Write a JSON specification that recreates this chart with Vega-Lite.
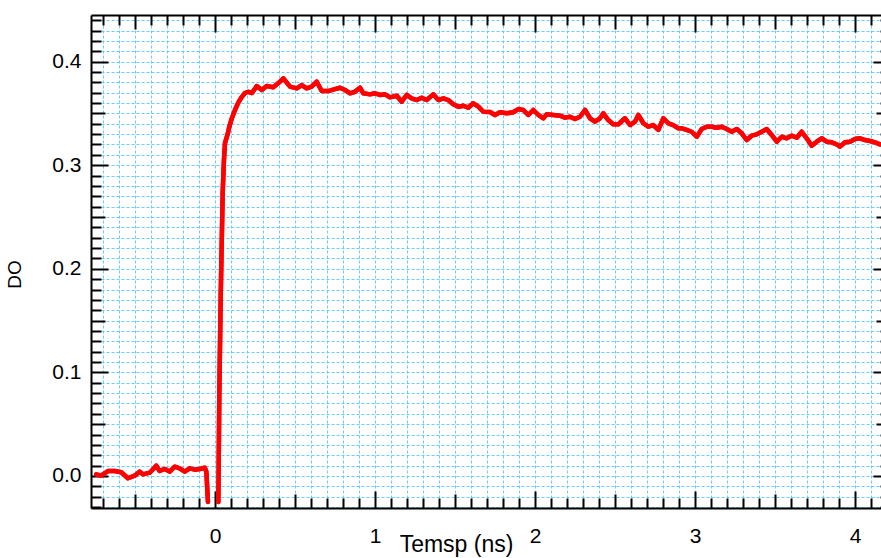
{
  "$schema": "https://vega.github.io/schema/vega-lite/v6.json",
  "autosize": "none",
  "width": 790,
  "height": 493,
  "padding": {"left": 91, "top": 15, "right": 0, "bottom": 50},
  "background": "white",
  "config": {
    "view": {"stroke": null},
    "font": "Liberation Sans",
    "axis": {
      "labelFont": "Liberation Sans",
      "titleFont": "Liberation Sans",
      "labelColor": "black",
      "titleColor": "black",
      "titleFontWeight": "normal",
      "domainColor": "black",
      "domainWidth": 2,
      "tickColor": "black",
      "tickWidth": 2,
      "labelOverlap": false,
      "labelFlush": false
    }
  },
  "data": {
    "values": [
      {"t": -0.742, "v": 0.0016}, {"t": -0.7125, "v": 0.0003}, {"t": -0.669, "v": 0.0048}, {"t": -0.627, "v": 0.0048},
      {"t": -0.586, "v": 0.0036}, {"t": -0.544, "v": -0.0022}, {"t": -0.502, "v": 0.0003}, {"t": -0.471, "v": 0.0042},
      {"t": -0.45, "v": 0.0016}, {"t": -0.408, "v": 0.0032}, {"t": -0.367, "v": 0.0099}, {"t": -0.346, "v": 0.0048},
      {"t": -0.314, "v": 0.0068}, {"t": -0.283, "v": 0.0042}, {"t": -0.252, "v": 0.009}, {"t": -0.221, "v": 0.0074},
      {"t": -0.189, "v": 0.0042}, {"t": -0.158, "v": 0.0074}, {"t": -0.127, "v": 0.0061}, {"t": -0.096, "v": 0.0068},
      {"t": -0.064, "v": 0.008}, {"t": -0.054, "v": 0.0042}, {"t": -0.044, "v": -0.0251},
      {"t": -0.01, "v": null},
      {"t": 0.021, "v": -0.0251}, {"t": 0.027, "v": 0.0801}, {"t": 0.036, "v": 0.1766}, {"t": 0.048, "v": 0.2732},
      {"t": 0.056, "v": 0.305}, {"t": 0.0625, "v": 0.3214}, {"t": 0.081, "v": 0.3311}, {"t": 0.089, "v": 0.3369},
      {"t": 0.106, "v": 0.3456}, {"t": 0.125, "v": 0.3533}, {"t": 0.144, "v": 0.36}, {"t": 0.167, "v": 0.3658},
      {"t": 0.1875, "v": 0.3697}, {"t": 0.208, "v": 0.3709}, {"t": 0.231, "v": 0.3697}, {"t": 0.261, "v": 0.3764},
      {"t": 0.292, "v": 0.3726}, {"t": 0.323, "v": 0.3764}, {"t": 0.364, "v": 0.3752}, {"t": 0.406, "v": 0.3806},
      {"t": 0.427, "v": 0.3839}, {"t": 0.469, "v": 0.3758}, {"t": 0.511, "v": 0.3742}, {"t": 0.542, "v": 0.3774},
      {"t": 0.573, "v": 0.3742}, {"t": 0.604, "v": 0.3758}, {"t": 0.636, "v": 0.3806}, {"t": 0.667, "v": 0.3716},
      {"t": 0.708, "v": 0.3716}, {"t": 0.75, "v": 0.3735}, {"t": 0.781, "v": 0.3748}, {"t": 0.8125, "v": 0.3726},
      {"t": 0.844, "v": 0.3694}, {"t": 0.875, "v": 0.3709}, {"t": 0.906, "v": 0.3748}, {"t": 0.927, "v": 0.3694},
      {"t": 0.969, "v": 0.3684}, {"t": 1.0, "v": 0.3694}, {"t": 1.031, "v": 0.3678}, {"t": 1.0625, "v": 0.3684},
      {"t": 1.094, "v": 0.3655}, {"t": 1.136, "v": 0.3671}, {"t": 1.167, "v": 0.3613}, {"t": 1.198, "v": 0.3678},
      {"t": 1.229, "v": 0.3646}, {"t": 1.261, "v": 0.3629}, {"t": 1.292, "v": 0.3652}, {"t": 1.323, "v": 0.3629},
      {"t": 1.364, "v": 0.3684}, {"t": 1.396, "v": 0.3629}, {"t": 1.427, "v": 0.3646}, {"t": 1.458, "v": 0.3629},
      {"t": 1.489, "v": 0.3588}, {"t": 1.521, "v": 0.3565}, {"t": 1.552, "v": 0.3574}, {"t": 1.583, "v": 0.3555},
      {"t": 1.614, "v": 0.3598}, {"t": 1.646, "v": 0.3565}, {"t": 1.677, "v": 0.3516}, {"t": 1.719, "v": 0.3514},
      {"t": 1.75, "v": 0.3485}, {"t": 1.781, "v": 0.3511}, {"t": 1.823, "v": 0.3501}, {"t": 1.864, "v": 0.3511},
      {"t": 1.896, "v": 0.3542}, {"t": 1.927, "v": 0.3533}, {"t": 1.958, "v": 0.3485}, {"t": 1.989, "v": 0.3533},
      {"t": 2.021, "v": 0.3485}, {"t": 2.052, "v": 0.3453}, {"t": 2.073, "v": 0.3491}, {"t": 2.114, "v": 0.3485},
      {"t": 2.156, "v": 0.3478}, {"t": 2.1875, "v": 0.3459}, {"t": 2.219, "v": 0.3468}, {"t": 2.25, "v": 0.3446},
      {"t": 2.281, "v": 0.3468}, {"t": 2.3125, "v": 0.3533}, {"t": 2.344, "v": 0.3453}, {"t": 2.375, "v": 0.342},
      {"t": 2.406, "v": 0.3453}, {"t": 2.427, "v": 0.3501}, {"t": 2.458, "v": 0.3436}, {"t": 2.489, "v": 0.3395},
      {"t": 2.521, "v": 0.3395}, {"t": 2.5625, "v": 0.3453}, {"t": 2.594, "v": 0.3388}, {"t": 2.625, "v": 0.342},
      {"t": 2.646, "v": 0.3485}, {"t": 2.677, "v": 0.3405}, {"t": 2.708, "v": 0.3372}, {"t": 2.739, "v": 0.3388},
      {"t": 2.771, "v": 0.334}, {"t": 2.802, "v": 0.3453}, {"t": 2.833, "v": 0.3405}, {"t": 2.864, "v": 0.3388},
      {"t": 2.896, "v": 0.3356}, {"t": 2.917, "v": 0.3356}, {"t": 2.948, "v": 0.334}, {"t": 2.979, "v": 0.3323},
      {"t": 3.011, "v": 0.3275}, {"t": 3.042, "v": 0.3349}, {"t": 3.073, "v": 0.3372}, {"t": 3.104, "v": 0.3372},
      {"t": 3.136, "v": 0.3362}, {"t": 3.167, "v": 0.3372}, {"t": 3.198, "v": 0.3349}, {"t": 3.229, "v": 0.3323},
      {"t": 3.261, "v": 0.3349}, {"t": 3.292, "v": 0.3308}, {"t": 3.323, "v": 0.3243}, {"t": 3.354, "v": 0.3285},
      {"t": 3.386, "v": 0.3298}, {"t": 3.417, "v": 0.3323}, {"t": 3.448, "v": 0.3349}, {"t": 3.479, "v": 0.3292},
      {"t": 3.511, "v": 0.3227}, {"t": 3.542, "v": 0.3275}, {"t": 3.573, "v": 0.326}, {"t": 3.604, "v": 0.3285},
      {"t": 3.636, "v": 0.3265}, {"t": 3.667, "v": 0.3323}, {"t": 3.698, "v": 0.326}, {"t": 3.729, "v": 0.3188},
      {"t": 3.761, "v": 0.3227}, {"t": 3.792, "v": 0.326}, {"t": 3.823, "v": 0.3227}, {"t": 3.854, "v": 0.3221},
      {"t": 3.886, "v": 0.3202}, {"t": 3.906, "v": 0.3179}, {"t": 3.9375, "v": 0.3221}, {"t": 3.969, "v": 0.3227},
      {"t": 4.0, "v": 0.3253}, {"t": 4.031, "v": 0.326}, {"t": 4.0625, "v": 0.3243}, {"t": 4.094, "v": 0.3234},
      {"t": 4.125, "v": 0.3221}, {"t": 4.156, "v": 0.3202}, {"t": 4.2, "v": 0.319}
    ]
  },
  "resolve": {"axis": {"x": "independent", "y": "independent"}},
  "layer": [
    {
      "mark": {"type": "line", "color": "#ff0000", "strokeWidth": 4.5, "clip": true, "strokeJoin": "round", "strokeCap": "round"},
      "encoding": {
        "x": {
          "field": "t", "type": "quantitative",
          "scale": {"domain": [-0.775, 4.1625], "nice": false, "zero": false},
          "axis": {
            "orient": "bottom",
            "values": [-0.7,-0.6,-0.5,-0.4,-0.3,-0.2,-0.1,0,0.1,0.2,0.3,0.4,0.5,0.6,0.7,0.8,0.9,1,1.1,1.2,1.3,1.4,1.5,1.6,1.7,1.8,1.9,2,2.1,2.2,2.3,2.4,2.5,2.6,2.7,2.8,2.9,3,3.1,3.2,3.3,3.4,3.5,3.6,3.7,3.8,3.9,4,4.1],
            "grid": true,
            "gridColor": "#66ccff",
            "gridDash": [3, 2],
            "gridWidth": 1,
            "gridOpacity": 1,
            "labelFontSize": 21,
            "labelExpr": "abs(datum.value - round(datum.value)) < 0.001 ? format(datum.value, 'd') : ''",
            "tickSize": {"condition": [{"test": "abs(datum.value - round(datum.value)) < 0.001", "value": -17}, {"test": "abs(datum.value*2 - round(datum.value*2)) < 0.001", "value": -14}], "value": -10},
            "labelPadding": 34,
            "title": "Temsp (ns)",
            "titleFontSize": 23,
            "titleX": 365,
            "titleY": 43,
            "titleAlign": "center",
            "titleBaseline": "alphabetic"
          }
        },
        "y": {
          "field": "v", "type": "quantitative",
          "scale": {"domain": [-0.0309, 0.445], "nice": false, "zero": false},
          "axis": {
            "orient": "left",
            "values": [-0.03,-0.02,-0.01,0,0.01,0.02,0.03,0.04,0.05,0.06,0.07,0.08,0.09,0.1,0.11,0.12,0.13,0.14,0.15,0.16,0.17,0.18,0.19,0.2,0.21,0.22,0.23,0.24,0.25,0.26,0.27,0.28,0.29,0.3,0.31,0.32,0.33,0.34,0.35,0.36,0.37,0.38,0.39,0.4,0.41,0.42,0.43,0.44],
            "grid": true,
            "gridColor": "#66ccff",
            "gridDash": [3, 2],
            "gridWidth": 1,
            "gridOpacity": 1,
            "labelFontSize": 21,
            "labelExpr": "abs(datum.value*10 - round(datum.value*10)) < 0.001 ? format(datum.value, '.1f') : ''",
            "tickSize": {"condition": [{"test": "abs(datum.value*10 - round(datum.value*10)) < 0.001", "value": -17}, {"test": "abs(datum.value*20 - round(datum.value*20)) < 0.001", "value": -14}], "value": -10},
            "labelPadding": 27,
            "title": "DO",
            "titleFontSize": 19,
            "titleAngle": -90,
            "titleX": -71,
            "titleY": 259,
            "titleAlign": "center",
            "titleBaseline": "alphabetic"
          }
        }
      }
    },
    {
      "mark": {"type": "line", "color": "#ff0000", "strokeWidth": 4.5, "clip": true, "strokeJoin": "round", "strokeCap": "round"},
      "encoding": {
        "x": {
          "field": "t", "type": "quantitative",
          "axis": {
            "orient": "top",
            "values": [-0.7,-0.6,-0.5,-0.4,-0.3,-0.2,-0.1,0,0.1,0.2,0.3,0.4,0.5,0.6,0.7,0.8,0.9,1,1.1,1.2,1.3,1.4,1.5,1.6,1.7,1.8,1.9,2,2.1,2.2,2.3,2.4,2.5,2.6,2.7,2.8,2.9,3,3.1,3.2,3.3,3.4,3.5,3.6,3.7,3.8,3.9,4,4.1],
            "grid": false,
            "labels": false,
            "title": null,
            "tickSize": {"condition": [{"test": "abs(datum.value - round(datum.value)) < 0.001", "value": -17}, {"test": "abs(datum.value*2 - round(datum.value*2)) < 0.001", "value": -14}], "value": -10}
          }
        },
        "y": {
          "field": "v", "type": "quantitative",
          "axis": {
            "orient": "right",
            "offset": 9,
            "domain": false,
            "values": [-0.03,-0.02,-0.01,0,0.01,0.02,0.03,0.04,0.05,0.06,0.07,0.08,0.09,0.1,0.11,0.12,0.13,0.14,0.15,0.16,0.17,0.18,0.19,0.2,0.21,0.22,0.23,0.24,0.25,0.26,0.27,0.28,0.29,0.3,0.31,0.32,0.33,0.34,0.35,0.36,0.37,0.38,0.39,0.4,0.41,0.42,0.43,0.44],
            "grid": false,
            "labels": false,
            "title": null,
            "tickSize": {"condition": [{"test": "abs(datum.value*10 - round(datum.value*10)) < 0.001", "value": -17}, {"test": "abs(datum.value*20 - round(datum.value*20)) < 0.001", "value": -14}], "value": -10}
          }
        }
      }
    }
  ]
}
